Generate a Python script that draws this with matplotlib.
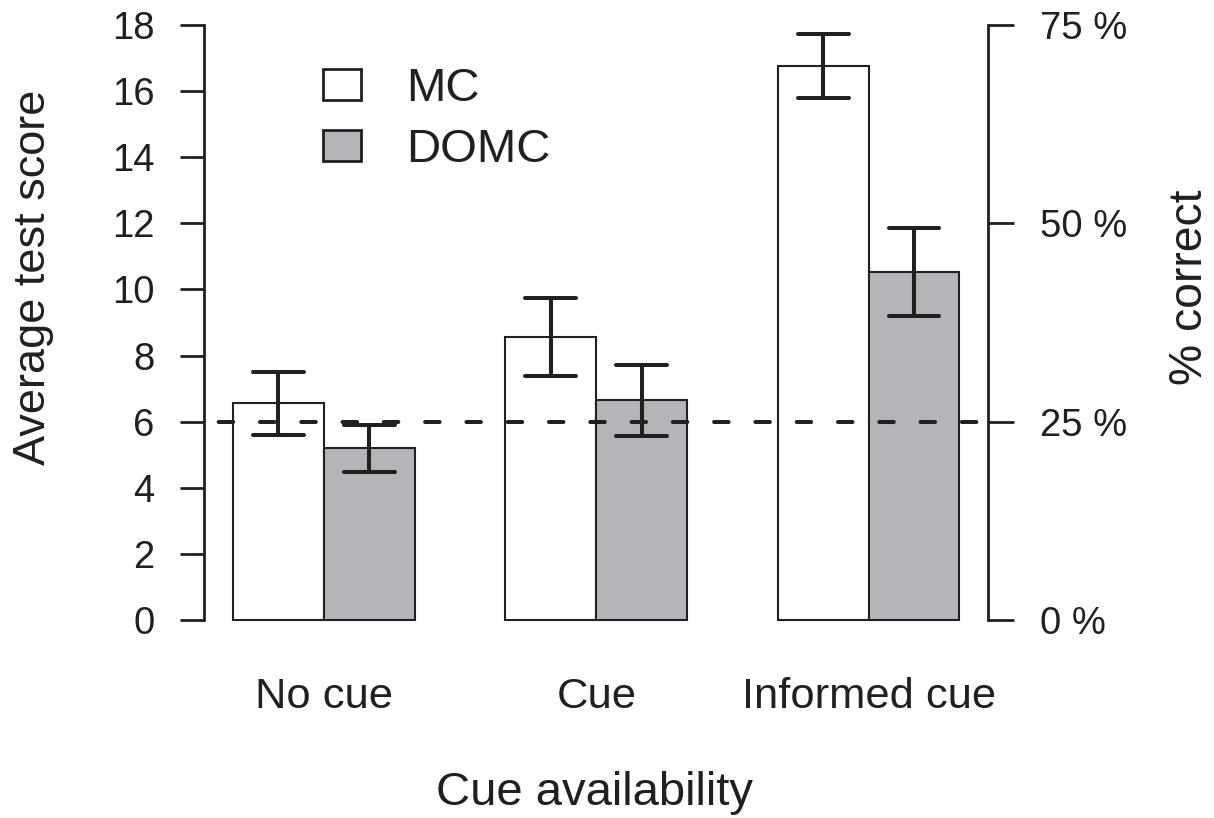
import numpy as np
import matplotlib
matplotlib.use("Agg")
import matplotlib.pyplot as plt
from matplotlib.patches import Patch

plt.rcParams['font.family'] = ['Liberation Sans', 'DejaVu Sans']

categories = ["No cue", "Cue", "Informed cue"]
series_names = ["MC", "DOMC"]
mc_mean = [6.55, 8.55, 16.75]
mc_err = [0.94, 1.18, 0.97]
domc_mean = [5.20, 6.65, 10.52]
domc_err = [0.71, 1.07, 1.33]
chance_score = 6
max_score = 24
left_ticks = [0, 2, 4, 6, 8, 10, 12, 14, 16, 18]
pct_ticks = [0, 25, 50, 75]

DARK = '#231f20'
GRAY = '#b4b5b8'

fig = plt.figure(figsize=(12.14, 8.18), dpi=100)
ax = fig.add_axes([0.16804, 0.21296, 0.64621, 0.78557])

centers = np.arange(len(categories)) * 3 + 2.0
mc_x = centers - 0.5
domc_x = centers + 0.5

ax.bar(mc_x, mc_mean, width=1.0, color='white', edgecolor=DARK, linewidth=1.5, zorder=2)
ax.bar(domc_x, domc_mean, width=1.0, color=GRAY, edgecolor=DARK, linewidth=1.5, zorder=2)

cap = 0.28
for xs, m, e in [(mc_x, mc_mean, mc_err), (domc_x, domc_mean, domc_err)]:
    m = np.array(m); e = np.array(e)
    ax.vlines(xs, m - e, m + e, color=DARK, linewidth=2.9, zorder=4, capstyle='round')
    ax.hlines(m - e, xs - cap, xs + cap, color=DARK, linewidth=2.9, zorder=4, capstyle='round')
    ax.hlines(m + e, xs - cap, xs + cap, color=DARK, linewidth=2.9, zorder=4, capstyle='round')

ax.axhline(chance_score, color=DARK, linewidth=2.9, linestyle=(6.6, (3.6, 6.65)),
           dash_capstyle='round', zorder=5)

ax.set_xlim(0.68, 9.32)
ax.set_ylim(-0.72, 18.72)

for s in ['top', 'right', 'bottom']:
    ax.spines[s].set_visible(False)
ax.spines['left'].set_bounds(0, 18)
ax.spines['left'].set_linewidth(2.0)
ax.spines['left'].set_color(DARK)
ax.set_yticks(left_ticks)
ax.set_yticklabels([str(t) for t in left_ticks])
ax.tick_params(axis='y', direction='out', length=17.3, width=2.0, color=DARK,
               labelsize=27.5, labelcolor=DARK, pad=18.5)
ax.set_xticks(centers)
ax.set_xticklabels(categories)
ax.tick_params(axis='x', length=0, labelsize=31.3, labelcolor=DARK, pad=24.0)

ax2 = ax.twinx()
ax2.set_ylim(ax.get_ylim())
for s in ['top', 'left', 'bottom']:
    ax2.spines[s].set_visible(False)
ax2.spines['right'].set_bounds(0, 18)
ax2.spines['right'].set_linewidth(2.0)
ax2.spines['right'].set_color(DARK)
ax2.set_yticks([p / 100 * max_score for p in pct_ticks])
ax2.set_yticklabels([f"{p} %" for p in pct_ticks])
ax2.tick_params(axis='y', direction='out', length=19, width=2.0, color=DARK,
                labelsize=27.5, labelcolor=DARK, pad=18)

fig.text(45 / 1214, 1 - 277 / 818, "Average test score", rotation=90, ha='center',
         va='baseline', rotation_mode='anchor', fontsize=32.5, color=DARK)
fig.text(1202 / 1214, 1 - 287 / 818, "% correct", rotation=90, ha='center',
         va='baseline', rotation_mode='anchor', fontsize=33.3, color=DARK)
fig.text(595 / 1214, 1 - 805 / 818, "Cue availability", ha='center', va='baseline',
         fontsize=34, color=DARK)

handles = [Patch(facecolor='white', edgecolor=DARK, linewidth=2.0),
           Patch(facecolor=GRAY, edgecolor=DARK, linewidth=2.0)]
leg = ax.legend(handles, series_names, loc='upper left',
                bbox_to_anchor=(323 / 1214, 1 - 67 / 818), bbox_transform=fig.transFigure,
                frameon=False, fontsize=34, handlelength=0.80, handleheight=0.64,
                handletextpad=0.97, labelspacing=0.36, borderpad=0, borderaxespad=0)
for t in leg.get_texts():
    t.set_color(DARK)

fig.savefig("out.png", dpi=100)
